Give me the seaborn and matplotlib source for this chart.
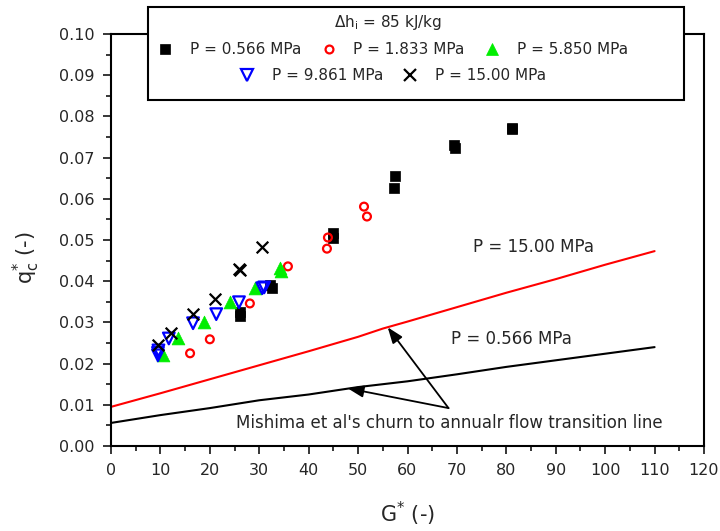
import numpy as np
import pandas as pd
import matplotlib
matplotlib.use("Agg")
import matplotlib.pyplot as plt
from matplotlib.patches import Rectangle
from matplotlib.lines import Line2D
from matplotlib.ticker import MultipleLocator
import seaborn as sns

# ---- data ----
g_0566 = [26.1, 26.1, 32.2, 32.6, 44.9, 44.9, 57.3, 57.5, 69.4, 69.6, 81.2, 81.2]
q_0566 = [0.0315, 0.0325, 0.0390, 0.0383, 0.0506, 0.0518, 0.0627, 0.0656, 0.0731, 0.0724, 0.0772, 0.0770]

g_1833 = [16.0, 20.0, 28.1, 35.8, 43.7, 43.9, 51.2, 51.8]
q_1833 = [0.0225, 0.0259, 0.0346, 0.0436, 0.0479, 0.0506, 0.0581, 0.0557]

g_5850 = [10.5, 13.6, 18.8, 24.1, 29.1, 34.2, 34.5]
q_5850 = [0.0220, 0.0261, 0.0300, 0.0349, 0.0383, 0.0433, 0.0425]

g_9861 = [9.5, 9.5, 9.6, 11.7, 16.6, 21.3, 25.9, 30.6, 31.0]
q_9861 = [0.0220, 0.0226, 0.0232, 0.0261, 0.0298, 0.0320, 0.0349, 0.0383, 0.0385]

g_1500 = [9.5, 12.1, 16.6, 21.1, 26.1, 26.0, 30.6]
q_1500 = [0.0245, 0.0274, 0.0320, 0.0358, 0.0426, 0.0430, 0.0482]

line_g_red = [0, 10, 20, 30, 40, 50, 55, 60, 70, 80, 90, 100, 110]
line_q_red = [0.0095, 0.0128, 0.0162, 0.0196, 0.0230, 0.0265, 0.0285, 0.0302, 0.0337, 0.0372, 0.0405, 0.0440, 0.0473]
line_g_blk = [0, 10, 20, 30, 40, 50, 60, 70, 80, 90, 100, 110]
line_q_blk = [0.0056, 0.0075, 0.0092, 0.0111, 0.0125, 0.0143, 0.0157, 0.0174, 0.0192, 0.0208, 0.0224, 0.0240]

labels = ["P = 0.566 MPa", "P = 1.833 MPa", "P = 5.850 MPa", "P = 9.861 MPa", "P = 15.00 MPa"]

# ---- style ----
sns.set_theme(style="ticks")
plt.rcParams["font.family"] = ["DejaVu Sans"]
plt.rcParams["mathtext.fontset"] = "dejavusans"
plt.rcParams["mathtext.default"] = "regular"

fig = plt.figure(figsize=(7.2, 5.31), dpi=100)
ax = fig.add_axes([111 / 720, 1 - 446 / 531, (704 - 111) / 720, (446 - 34) / 531])

lw_tick = 1.3
styles = [
    dict(marker="s", s=55, color="black", edgecolor="black", linewidth=0.5),
    dict(marker="o", s=32, facecolor="none", edgecolor="red", linewidth=1.6),
    dict(marker="^", s=85, color="#00ee00", edgecolor="#00ee00", linewidth=0.5),
    dict(marker="v", s=70, facecolor="none", edgecolor="blue", linewidth=1.6),
    dict(marker="x", s=70, color="black", linewidth=1.6),
]
series = [(g_0566, q_0566), (g_1833, q_1833), (g_5850, q_5850), (g_9861, q_9861), (g_1500, q_1500)]
for (gx, qy), st, lab in zip(series, styles, labels):
    df = pd.DataFrame({"G": gx, "q": qy})
    sns.scatterplot(data=df, x="G", y="q", ax=ax, legend=False, zorder=3, **st)

sns.lineplot(x=line_g_red, y=line_q_red, ax=ax, color="red", linewidth=1.5, zorder=2)
sns.lineplot(x=line_g_blk, y=line_q_blk, ax=ax, color="black", linewidth=1.5, zorder=2)

ax.set_xlim(0, 120)
ax.set_ylim(0, 0.10)
ax.xaxis.set_major_locator(MultipleLocator(10))
ax.xaxis.set_minor_locator(MultipleLocator(5))
ax.yaxis.set_major_locator(MultipleLocator(0.01))
ax.yaxis.set_minor_locator(MultipleLocator(0.005))
ax.yaxis.set_major_formatter(matplotlib.ticker.FormatStrFormatter("%.2f"))
ax.tick_params(which="major", direction="out", length=6, width=lw_tick, labelsize=11.5,
               top=False, right=False, pad=6)
ax.tick_params(which="minor", direction="out", length=3.5, width=lw_tick, top=False, right=False)
for sp in ax.spines.values():
    sp.set_visible(True)
    sp.set_linewidth(1.5)
    sp.set_color("black")

ax.set_xlabel(r"G$^{*}$ (-)", fontsize=15, va="center")
ax.xaxis.set_label_coords(0.50, (446 - 514) / 412)
ax.set_ylabel(r"q$^{*}_{c}$ (-)", fontsize=15, va="center")
ax.yaxis.set_label_coords((26 - 111) / 593, (446 - 258) / 412)

# annotations
ax.text(85.4, 0.0482, "P = 15.00 MPa", ha="center", va="center", fontsize=12)
ax.text(81.0, 0.0259, "P = 0.566 MPa", ha="center", va="center", fontsize=12)
ax.text(25.3, 0.0056, "Mishima et al's churn to annualr flow transition line",
        ha="left", va="center", fontsize=12)
arrow_kw = dict(arrowstyle="-|>,head_length=0.8,head_width=0.3", color="black", lw=1.3,
                shrinkA=0, shrinkB=0)
ax.annotate("", xy=(56.0, 0.0288), xytext=(68.3, 0.0092), arrowprops=arrow_kw)
ax.annotate("", xy=(47.9, 0.0140), xytext=(68.3, 0.0092), arrowprops=arrow_kw)

# legend box
box = Rectangle((148 / 720, 1 - 100 / 531), (684 - 148) / 720, 93 / 531,
                transform=fig.transFigure, facecolor="white", edgecolor="black",
                linewidth=1.5, zorder=10)
fig.add_artist(box)
fig.text(388 / 720, 1 - 23 / 531, r"Δh$_{i}$ = 85 kJ/kg", ha="center", va="center",
         fontsize=11, zorder=11)

handles = []
for st, lab in zip(styles, labels):
    m = st["marker"]
    fc = st.get("facecolor", st.get("color"))
    ec = st.get("edgecolor", st.get("color"))
    h = Line2D([], [], linestyle="none", marker=m, markersize=np.sqrt(st["s"]),
               markerfacecolor=fc, markeredgecolor=ec, markeredgewidth=st["linewidth"],
               color=ec, label=lab)
    handles.append(h)

leg_kw = dict(frameon=False, fontsize=11, handlelength=1.2, handletextpad=1.0,
              columnspacing=1.2, borderpad=0, borderaxespad=0)
leg1 = fig.legend(handles=handles[:3], ncol=3, loc="center",
                  bbox_to_anchor=(392 / 720, 1 - 50 / 531), **leg_kw)
leg1.set_zorder(12)
leg2 = fig.legend(handles=handles[3:], ncol=2, loc="center",
                  bbox_to_anchor=(392 / 720, 1 - 76 / 531), **leg_kw)
leg2.set_zorder(12)

fig.savefig("out.png", dpi=100)
